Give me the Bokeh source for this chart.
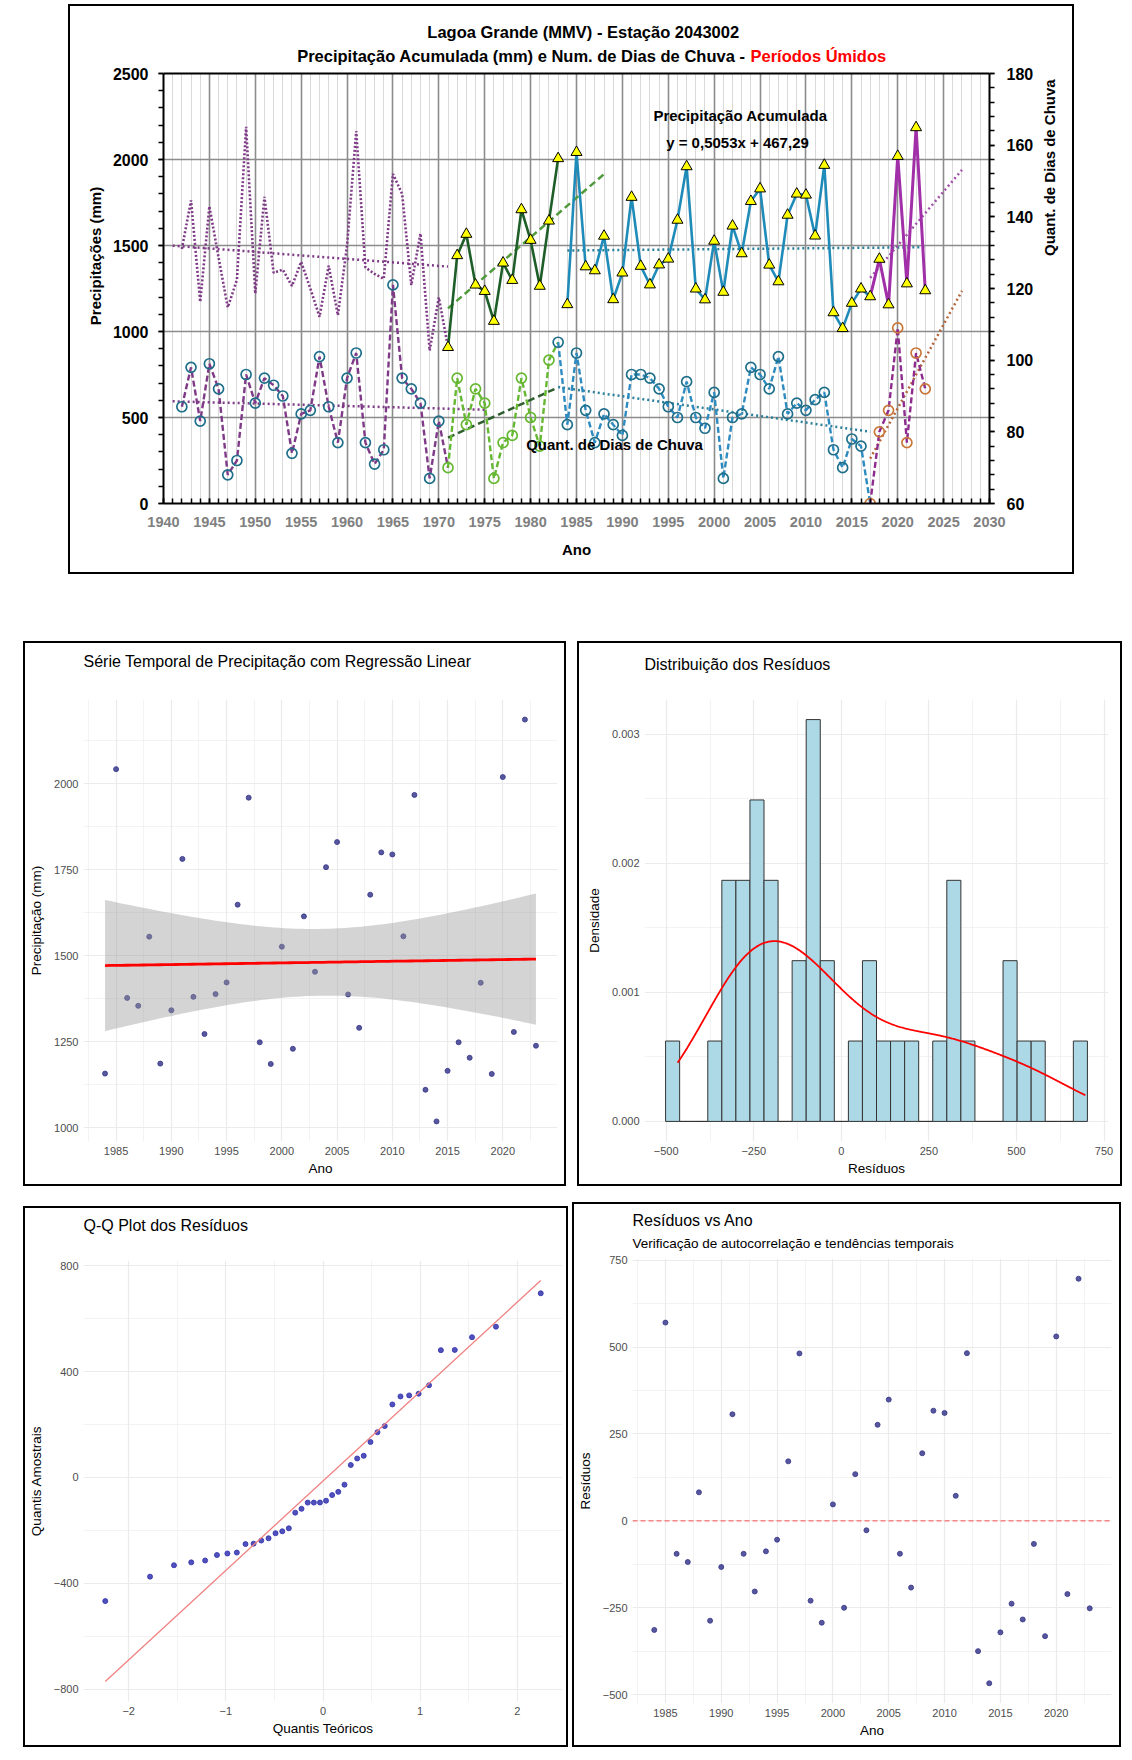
import numpy as np
from statistics import NormalDist
from bokeh.plotting import figure
from bokeh.models import (Range1d, LinearAxis, FixedTicker, Label, Title, Spacer,
                          PrintfTickFormatter, Span)
from bokeh.layouts import column, row
from bokeh.embed import file_html
from bokeh.resources import INLINE

# ---------------- data ----------------
years = list(range(1942, 2024))
precip = [
    1480, 1762, 1172, 1728, 1430, 1140, 1300, 2190, 1220, 1783,   # 1942-1951
    1341, 1360, 1265, 1405, 1250, 1085, 1382, 1095, 1500, 2165,   # 1952-1961
    1372, 1335, 1306, 1916, 1800, 1270, 1570, 889, 1198,          # 1962-1970
    908, 1442, 1566, 1271, 1234, 1060, 1399, 1298, 1709, 1531,    # 1971-1980
    1264, 1643, 2006,                                             # 1981-1983
    1157, 2042, 1377, 1354, 1555, 1186, 1341, 1781, 1380, 1272,   # 1984-1993
    1388, 1422, 1648, 1959, 1248, 1185, 1526, 1229, 1614, 1453,   # 1994-2003
    1757, 1830, 1387, 1290, 1677, 1800, 1794, 1556, 1967, 1110,   # 2004-2013
    1018, 1165, 1248, 1203, 1421, 1156, 2019, 1278, 2186, 1238,   # 2014-2023
]
rain_days = [
    87, 98, 83, 99, 92, 68, 72, 96, 88, 95,      # 1942-1951
    93, 90, 74, 85, 86, 101, 87, 77, 95, 102,    # 1952-1961
    77, 71, 75, 121, 95, 92, 88, 67, 83,         # 1962-1970
    70, 95, 82, 92, 88, 67, 77, 79, 95, 84,      # 1971-1980
    76, 100, 105,                                # 1981-1983
    82, 102, 86, 77, 85, 82, 79, 96, 96, 95,     # 1984-1993
    92, 87, 84, 94, 84, 81, 91, 67, 84, 85,      # 1994-2003
    98, 96, 92, 101, 85, 88, 86, 89, 91, 75,     # 2004-2013
    70, 78, 76, 60, 80, 86, 109, 77, 102, 92,    # 2014-2023
]
x_ticks_top = list(range(1940, 2031, 5))
y_ticks_left = [0, 500, 1000, 1500, 2000, 2500]
y_ticks_right = [60, 80, 100, 120, 140, 160, 180]

FONT = "Liberation Sans"


def sel(arr, y0, y1):
    i0, i1 = y0 - years[0], y1 - years[0] + 1
    return years[i0:i1], arr[i0:i1]


def trend(arr, f0, f1, d0, d1):
    xs, ys = sel(arr, f0, f1)
    m, b = np.polyfit(xs, ys, 1)
    return [d0, d1], [m * d0 + b, m * d1 + b]


# ---------------- top chart ----------------
FIG_X, FIG_Y = 70, 6            # page position of the top figure
FL, FR, FT, FB = 93, 83, 2, 69
TW, TH = 1002, 566
AXIS_PX = 430.0                 # pixels spanned by 0..2500 mm
YTOP = 2500.0 * (TH - FT - FB) / AXIS_PX
DTOP = 60 + YTOP * 120.0 / 2500.0

p = figure(width=TW, height=TH, x_range=Range1d(1940, 2030), y_range=Range1d(0, YTOP),
           output_backend="svg", toolbar_location=None, title=None,
           min_border_left=FL, min_border_right=FR, min_border_top=FT, min_border_bottom=FB)
p.extra_y_ranges = {"days": Range1d(60, DTOP)}
p.background_fill_color = "white"
p.outline_line_color = None

p.xaxis.ticker = FixedTicker(ticks=x_ticks_top, minor_ticks=list(range(1940, 2031)))
p.xgrid.ticker = FixedTicker(ticks=x_ticks_top[1:-1], minor_ticks=list(range(1941, 2030)))
p.xgrid.cross_bounds = (0, 2500)
p.xgrid.grid_line_color = "#8C8C8C"
p.xgrid.grid_line_width = 1.6
p.xgrid.minor_grid_line_color = "#D9D9D9"
p.xgrid.minor_grid_line_width = 1
p.ygrid.ticker = FixedTicker(ticks=y_ticks_left[1:-1])
p.ygrid.grid_line_color = "#8C8C8C"
p.ygrid.grid_line_width = 1.6

xa = p.xaxis[0]
xa.axis_line_color = "black"
xa.axis_line_width = 2
xa.major_tick_in, xa.major_tick_out = 5, 0
xa.minor_tick_in, xa.minor_tick_out = 5, 0
xa.major_tick_line_color = "black"
xa.minor_tick_line_color = "black"
xa.major_tick_line_width = 1.5
xa.minor_tick_line_width = 1.5
xa.major_label_text_font = FONT
xa.major_label_text_font_style = "bold"
xa.major_label_text_font_size = "14.5px"
xa.major_label_text_color = "#808080"
xa.major_label_standoff = 13
xa.axis_label = "Ano"
xa.axis_label_text_font = FONT
xa.axis_label_text_font_style = "bold"
xa.axis_label_text_font_size = "15px"
xa.axis_label_text_color = "black"
xa.axis_label_standoff = 11

ya = p.yaxis[0]
ya.ticker = FixedTicker(ticks=y_ticks_left, minor_ticks=list(range(0, 2501, 100)))
ya.bounds = (0, 2500)
ya.axis_line_color = "black"
ya.axis_line_width = 2
ya.major_tick_in, ya.major_tick_out = 0, 5
ya.minor_tick_in, ya.minor_tick_out = 0, 5
ya.major_tick_line_width = 1.5
ya.minor_tick_line_width = 1.5
ya.major_label_text_font = FONT
ya.major_label_text_font_style = "bold"
ya.major_label_text_font_size = "16px"
ya.major_label_text_color = "black"
ya.major_label_standoff = 10
ya.axis_label = "Precipitações (mm)"
ya.axis_label_text_font = FONT
ya.axis_label_text_font_style = "bold"
ya.axis_label_text_font_size = "15px"
ya.axis_label_text_color = "black"
ya.axis_label_standoff = 6

ra = LinearAxis(y_range_name="days", bounds=(60, 180),
                ticker=FixedTicker(ticks=y_ticks_right, minor_ticks=list(range(60, 181, 4))))
ra.axis_line_color = "black"
ra.axis_line_width = 2
ra.major_tick_in, ra.major_tick_out = 0, 5
ra.minor_tick_in, ra.minor_tick_out = 0, 5
ra.major_tick_line_width = 1.5
ra.minor_tick_line_width = 1.5
ra.major_label_text_font = FONT
ra.major_label_text_font_style = "bold"
ra.major_label_text_font_size = "16px"
ra.major_label_text_color = "black"
ra.major_label_standoff = 12
ra.axis_label = "Quant. de Dias de Chuva"
ra.axis_label_orientation = np.pi / 2
ra.axis_label_text_font = FONT
ra.axis_label_text_font_style = "bold"
ra.axis_label_text_font_size = "15px"
ra.axis_label_text_color = "black"
ra.axis_label_standoff = 13
p.add_layout(ra, "right")

# top edge of the plotting area
p.add_layout(Span(location=2500, dimension="width", line_color="black", line_width=2))

PURPLE = "#7E3A86"
DOT = "2 3"
DASH = "7 4"

# trends
for arr, f0, f1, d0, d1, col, dash, yr in [
    (precip, 1942, 1970, 1941, 1971, PURPLE, DOT, "default"),
    (precip, 1971, 1983, 1971, 1988, "#4F9A3A", DASH, "default"),
    (precip, 1984, 2023, 1984, 2023, "#2A7F9A", DOT, "default"),
    (precip, 2017, 2023, 2017, 2027, "#A050A8", DOT, "default"),
    (rain_days, 1942, 1970, 1941, 1975, PURPLE, DOT, "days"),
    (rain_days, 1971, 1983, 1971, 1983, "#2E5E2E", DASH, "days"),
    (rain_days, 1983, 2017, 1983, 2017, "#2A7F9A", DOT, "days"),
    (rain_days, 2017, 2023, 2017, 2027, "#B5653A", DOT, "days"),
]:
    tx, ty = trend(arr, f0, f1, d0, d1)
    p.line(tx, ty, line_color=col, line_width=2.5, line_dash=dash, y_range_name=yr)

# rain days series
for (l0, l1, m0, m1, lc, mc) in [
    (1942, 1971, 1942, 1970, PURPLE, "#1F6F8B"),
    (1971, 1983, 1971, 1982, "#66B832", "#66B832"),
    (1983, 2017, 1983, 2016, "#2E8BC0", "#1F6F8B"),
    (2017, 2023, 2017, 2023, "#8E2C8E", "#C8783A"),
]:
    lx, ly = sel(rain_days, l0, l1)
    p.line(lx, ly, line_color=lc, line_width=2.4, line_dash="6 3", y_range_name="days")
    mx, my = sel(rain_days, m0, m1)
    p.scatter(mx, my, marker="circle", size=10, fill_color=None, line_color=mc,
              line_width=1.7, y_range_name="days")

# precipitation series
lx, ly = sel(precip, 1942, 1971)
p.line(lx, ly, line_color=PURPLE, line_width=2.6, line_dash="2 2")
for (l0, l1, lc, lw) in [
    (1971, 1983, "#1E5E28", 2.6),
    (1984, 2017, "#1F8BB8", 2.6),
    (2017, 2023, "#A02FA8", 3.0),
]:
    lx, ly = sel(precip, l0, l1)
    p.line(lx, ly, line_color=lc, line_width=lw)
for (m0, m1) in [(1971, 1983), (1984, 2016), (2017, 2023)]:
    mx, my = sel(precip, m0, m1)
    p.scatter(mx, my, marker="triangle", size=11, fill_color="#FFFF00",
              line_color="black", line_width=1)

# text placement helpers (page pixel -> data)
PX0 = FIG_X + FL
PY0 = FIG_Y + TH - FB
SX = (TW - FL - FR) / 90.0
SY = AXIS_PX / 2500.0


def dx(px):
    return 1940 + (px - PX0) / SX


def dy(py):
    return (PY0 - py) / SY


def lab(px, py, text, size, color="black", align="center"):
    p.add_layout(Label(x=dx(px), y=dy(py), text=text, text_font=FONT,
                       text_font_style="bold", text_font_size=size, text_color=color,
                       text_align=align, text_baseline="middle"))


lab(585, 31, "Lagoa Grande (MMV) -  Estação 2043002", "16.5px")
lab(745, 55, "Precipitação Acumulada (mm) e Num. de Dias de Chuva -", "16.5px", align="right")
lab(750, 55, "Períodos Úmidos", "16.5px", color="#FF0000", align="left")
lab(740, 115, "Precipitação Acumulada", "15px")
lab(737, 142, "y = 0,5053x + 467,29", "15px")
lab(614, 444, "Quant. de Dias de Chuva", "15px")

p.styles = {"outline": "2px solid black"}

# ---------------- statistics for the lower panels (derived from data) ----------------
yr3, pr3 = sel(precip, 1984, 2023)
yr3 = np.array(yr3, dtype=float)
pr3 = np.array(pr3, dtype=float)
n = len(pr3)
slope, icpt = np.polyfit(yr3, pr3, 1)
resid = pr3 - (slope * yr3 + icpt)
s_res = np.sqrt(np.sum(resid ** 2) / (n - 2))
xbar = yr3.mean()
sxx = np.sum((yr3 - xbar) ** 2)
T975 = 2.024
band_x = np.linspace(yr3.min(), yr3.max(), 80)
band_fit = slope * band_x + icpt
band_se = s_res * np.sqrt(1.0 / n + (band_x - xbar) ** 2 / sxx)
band_lo = band_fit - T975 * band_se
band_hi = band_fit + T975 * band_se

# histogram (ggplot2 bins = 30)
rmin, rmax = resid.min(), resid.max()
bw_hist = (rmax - rmin) / 29
origin = bw_hist / 2 + np.floor((rmin - bw_hist / 2) / bw_hist) * bw_hist
nb = int(np.floor((rmax + (1 - 1e-8) * bw_hist - origin) / bw_hist)) + 1
breaks = origin + bw_hist * np.arange(nb)
counts, _ = np.histogram(resid, bins=breaks)
dens_bar = counts / (n * bw_hist)

# kernel density (nrd0)
q25, q75 = np.percentile(resid, [25, 75])
bw = 0.9 * min(resid.std(ddof=1), (q75 - q25) / 1.34) * n ** -0.2
kx = np.linspace(rmin, rmax, 512)
ky = np.exp(-0.5 * ((kx[:, None] - resid[None, :]) / bw) ** 2).sum(1) / (n * bw * np.sqrt(2 * np.pi))

# QQ
nd = NormalDist()
theo = np.array([nd.inv_cdf((i - 0.5) / n) for i in range(1, n + 1)])
samp = np.sort(resid)
z1, z3 = nd.inv_cdf(0.25), nd.inv_cdf(0.75)
qslope = (q75 - q25) / (z3 - z1)
qint = q25 - qslope * z1
qq_lx = np.array([theo.min(), theo.max()])
qq_ly = qint + qslope * qq_lx


def expand(lo, hi, m=0.05):
    d = (hi - lo) * m
    return lo - d, hi + d


GRID = "#EBEBEB"


def gg(width, height, xr, yr, xt, xm, yt, ym, mb, xlabel, ylabel):
    f = figure(width=width, height=height, x_range=Range1d(*xr), y_range=Range1d(*yr),
               output_backend="svg", toolbar_location=None, title=None,
               min_border_left=mb[0], min_border_right=mb[1],
               min_border_top=mb[2], min_border_bottom=mb[3])
    f.outline_line_color = None
    f.xaxis.ticker = FixedTicker(ticks=xt, minor_ticks=xm)
    f.yaxis.ticker = FixedTicker(ticks=yt, minor_ticks=ym)
    f.xgrid.ticker = FixedTicker(ticks=xt, minor_ticks=xm)
    f.ygrid.ticker = FixedTicker(ticks=yt, minor_ticks=ym)
    for g in (f.xgrid[0], f.ygrid[0]):
        g.grid_line_color = GRID
        g.grid_line_width = 1.2
        g.minor_grid_line_color = GRID
        g.minor_grid_line_width = 0.6
    for ax in (f.xaxis[0], f.yaxis[0]):
        ax.axis_line_color = None
        ax.major_tick_line_color = None
        ax.minor_tick_line_color = None
        ax.major_tick_in = ax.major_tick_out = 0
        ax.minor_tick_in = ax.minor_tick_out = 0
        ax.major_label_text_font = FONT
        ax.major_label_text_font_size = "11px"
        ax.major_label_text_color = "#4D4D4D"
        ax.axis_label_text_font = FONT
        ax.axis_label_text_font_size = "13.5px"
        ax.axis_label_text_font_style = "normal"
        ax.axis_label_text_color = "black"
    f.xaxis.axis_label = xlabel
    f.yaxis.axis_label = ylabel
    f.xaxis.major_label_standoff = 5
    f.yaxis.major_label_standoff = 5
    f.xaxis.axis_label_standoff = 3
    f.yaxis.axis_label_standoff = 7
    f.styles = {"outline": "2px solid black"}
    return f


def add_gap(f, g):
    # a blank axis (white tick on white margin, no label drawn) used only as
    # vertical space between the plot area and the title
    mid = 0.5 * (f.x_range.start + f.x_range.end)
    gap = LinearAxis(ticker=FixedTicker(ticks=[mid]), axis_line_color=None,
                     major_tick_line_color="white", minor_tick_line_color=None,
                     major_tick_in=0, major_tick_out=g, minor_tick_in=0, minor_tick_out=0,
                     major_label_standoff=0, major_label_text_color=None,
                     major_label_text_font_size="1px")
    f.add_layout(gap, "above")


def add_title(f, text, size, standoff):
    f.add_layout(Title(text=text, text_font=FONT, text_font_size=size, text_font_style="normal",
                       text_color="black", align="left", standoff=standoff), "above")


yrs_ticks = [1985, 1990, 1995, 2000, 2005, 2010, 2015, 2020]
yrs_minor = [1982.5 + 5 * i for i in range(9)]

# Panel A
a_y = expand(min(pr3.min(), band_lo.min()), max(pr3.max(), band_hi.max()))
pa = gg(539, 541, expand(yr3.min(), yr3.max()), a_y, yrs_ticks, yrs_minor,
        [1000, 1250, 1500, 1750, 2000], [875, 1125, 1375, 1625, 1875, 2125],
        (58, 7, 56, 42), "Ano", "Precipitação (mm)")
add_gap(pa, 25)
add_title(pa, "Série Temporal de Precipitação com Regressão Linear", "16px", 10)
pa.scatter(yr3, pr3, size=5, color="#3A3A8C", alpha=0.85)
pa.varea(x=band_x, y1=band_lo, y2=band_hi, fill_color="#999999", fill_alpha=0.42)
pa.line(band_x, band_fit, line_color="red", line_width=2.8)

# Panel B
pb = gg(541, 541, expand(breaks[0], breaks[-1]), expand(0, dens_bar.max()),
        [-500, -250, 0, 250, 500, 750], [-625, -375, -125, 125, 375, 625],
        [0, 0.001, 0.002, 0.003], [0.0005, 0.0015, 0.0025],
        (65, 12, 54, 43), "Resíduos", "Densidade")
pb.yaxis.formatter = PrintfTickFormatter(format="%.3f")
add_gap(pb, 22)
add_title(pb, "Distribuição dos Resíduos", "16px", 10)
pb.quad(left=breaks[:-1], right=breaks[1:], bottom=0, top=dens_bar,
        fill_color="#ADD8E6", line_color="#333333", line_width=1)
pb.line(kx, ky, line_color="red", line_width=1.8)

# Panel C
c_y = expand(min(samp.min(), qq_ly.min()), max(samp.max(), qq_ly.max()))
pc = gg(541, 537, expand(theo.min(), theo.max()), c_y, [-2, -1, 0, 1, 2],
        [-2.5, -1.5, -0.5, 0.5, 1.5, 2.5], [-800, -400, 0, 400, 800], [-600, -200, 200, 600],
        (57, 4, 52, 44), "Quantis Teóricos", "Quantis Amostrais")
add_gap(pc, 22)
add_title(pc, "Q-Q Plot dos Resíduos", "16px", 10)
pc.scatter(theo, samp, size=5, color="#3333B0", alpha=0.85)
pc.line(qq_lx, qq_ly, line_color="#F08080", line_width=1.3)

# Panel D
d_y = expand(min(resid.min(), 0), max(resid.max(), 0))
pd_ = gg(545, 541, expand(yr3.min(), yr3.max()), d_y, yrs_ticks, yrs_minor,
         [-500, -250, 0, 250, 500, 750], [-625, -375, -125, 125, 375, 625],
         (58, 8, 54, 42), "Ano", "Resíduos")
add_gap(pd_, 7)
add_title(pd_, "Verificação de autocorrelação e tendências temporais", "13.5px", 2)
add_title(pd_, "Resíduos vs Ano", "16px", 7)
pd_.add_layout(Span(location=0, dimension="width", line_color="red", line_alpha=0.55,
                    line_width=1.2, line_dash="5 3"))
pd_.scatter(yr3, resid, size=5, color="#3A3A8C", alpha=0.85)

layout = column(
    Spacer(width=10, height=FIG_Y),
    row(Spacer(width=FIG_X, height=10), p),
    Spacer(width=10, height=643 - FIG_Y - TH),
    row(Spacer(width=25, height=10), pa, Spacer(width=15, height=10), pb),
    Spacer(width=10, height=20),
    row(Spacer(width=25, height=10), column(Spacer(width=10, height=4), pc),
        Spacer(width=8, height=10), pd_),
)

open("out.html", "w").write(file_html(layout, INLINE))
